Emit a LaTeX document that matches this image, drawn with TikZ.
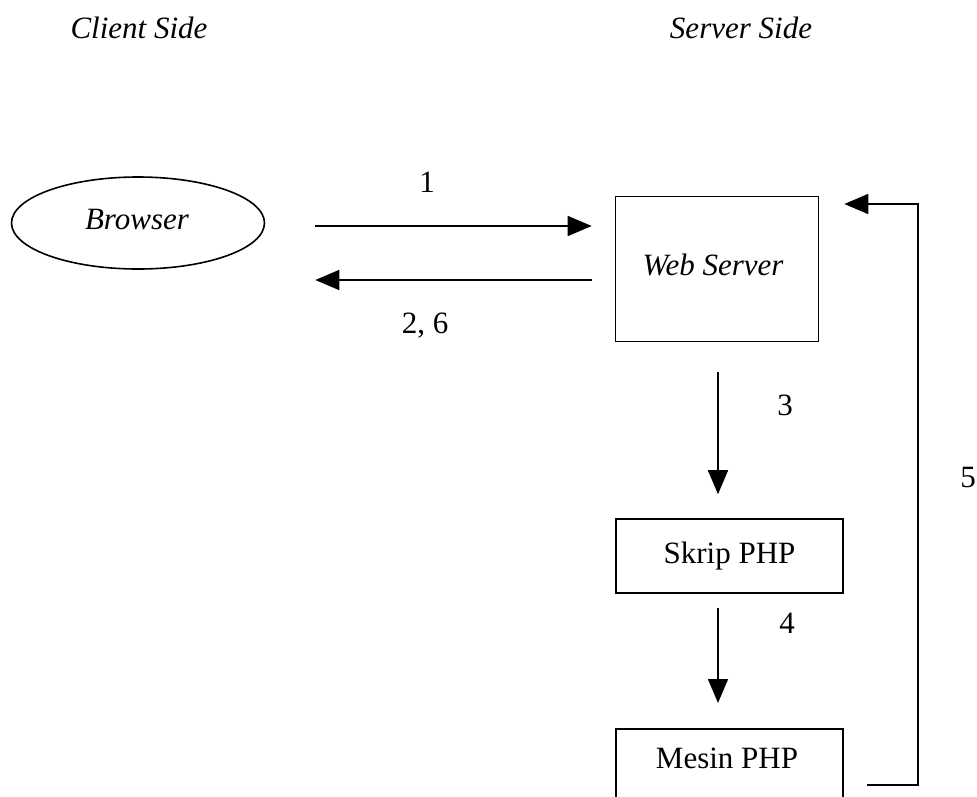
\documentclass[tikz,border=0pt]{standalone}
\usepackage{fontspec}
\setmainfont{Liberation Serif}
\usetikzlibrary{arrows.meta,shapes.geometric}
\begin{document}
\begin{tikzpicture}[x=1pt,y=-1pt,line width=1.6pt,
  every node/.style={font=\fontsize{31}{36}\selectfont, inner sep=0pt},
  arr/.style={-{Triangle[length=24pt,width=20pt]}},
  box/.style={draw, line width=1.6pt}]
\useasboundingbox (0,0) rectangle (977,796);
\clip (0,0) rectangle (977,796);
% headings
\node (client) at (139,28) {\itshape Client Side};
\node (server) at (741,28) {\itshape Server Side};
% nodes
\node[draw, ellipse, minimum width=253pt, minimum height=92pt] (br) at (138,223) {};
\node (brtxt) at (137,219) {\itshape Browser};
\node[box, minimum width=203pt, minimum height=145pt] (ws) at (717,269) {};
\node (wstxt) at (713,265) {\itshape Web Server};
\node[box, minimum width=227pt, minimum height=74pt] (skrip) at (729.5,556) {Skrip PHP};
\node[box, minimum width=227pt, minimum height=110pt, anchor=north] (mesin) at (729.5,728) {};
\node (mesintxt) at (727,758) {Mesin PHP};
% connectors
\draw[arr, shorten <=50pt, shorten >=23pt] (br.east |- 0,226) -- (ws.west |- 0,226);
\draw[arr, shorten <=23pt, shorten >=50pt] (ws.west |- 0,280) -- (br.east |- 0,280);
\draw[arr, shorten <=30pt, shorten >=24pt] (ws.south -| 718,0) -- (skrip.north -| 718,0);
\draw[arr, shorten <=14pt, shorten >=25pt] (skrip.south -| 718,0) -- (mesin.north -| 718,0);
\draw[arr, shorten <=23pt, shorten >=25pt] (mesin.east |- 0,785) -| (918,204) -- (ws.east |- 0,204);
% labels
\node (l1) at (427,182) {1};
\node (l26) at (425,326) {2, 6};
\node (l3) at (785,405) {3};
\node (l4) at (787,623) {4};
\node (l5) at (968,477) {5};
\end{tikzpicture}
\end{document}
